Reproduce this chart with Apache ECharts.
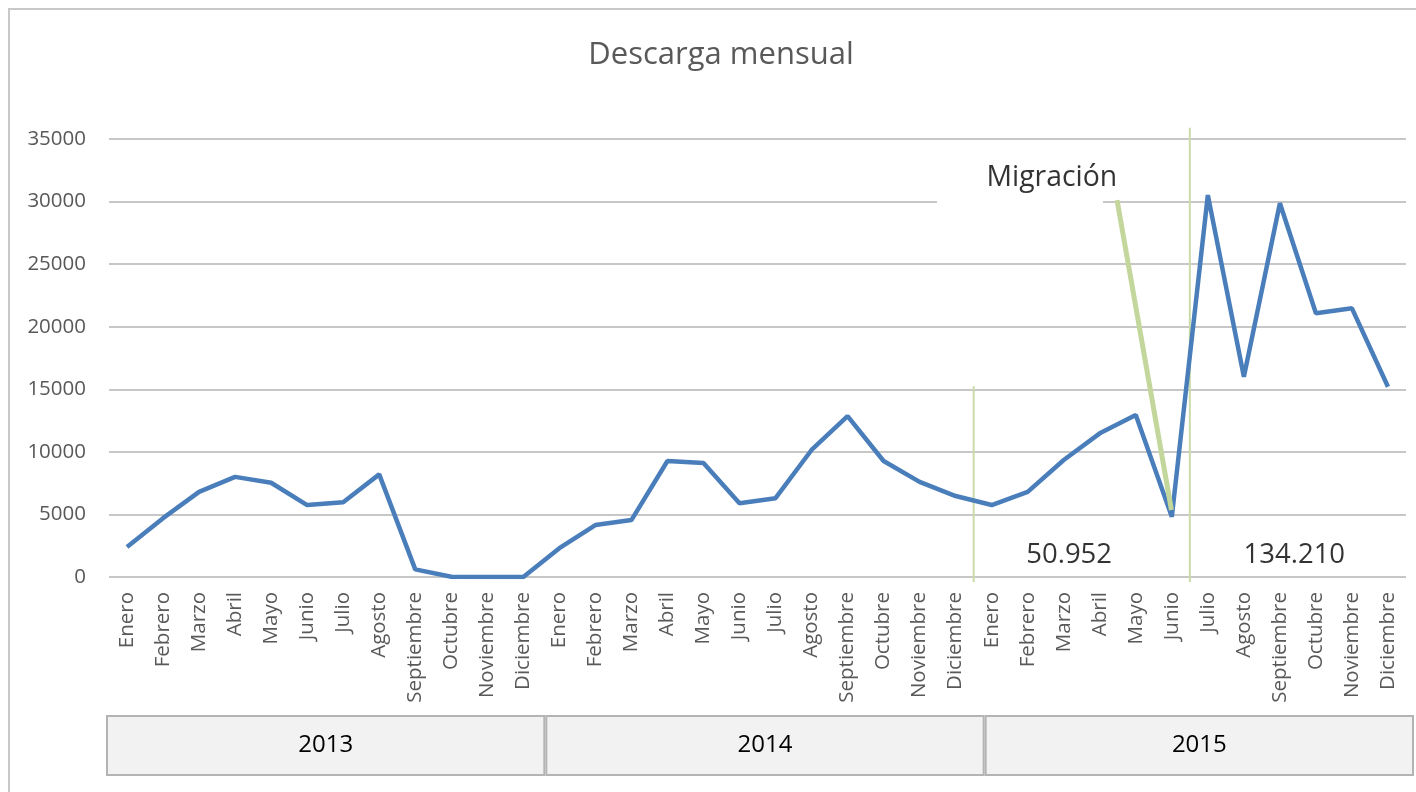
<!DOCTYPE html>
<html>
<head>
<meta charset="utf-8">
<script src="https://cdn.jsdelivr.net/npm/echarts@6/dist/echarts.min.js"></script>
<style>
html,body{margin:0;padding:0;background:#fff;}
#chart{width:1416px;height:792px;}
</style>
</head>
<body>
<div id="chart"></div>
<script>
// ---- data ----
const titleText = 'Descarga mensual';
const months = ['Enero','Febrero','Marzo','Abril','Mayo','Junio','Julio','Agosto','Septiembre','Octubre','Noviembre','Diciembre'];
const years = ['2013','2014','2015'];
const values2013 = [2400, 4700, 6800, 8000, 7530, 5750, 5970, 8200, 610, 20, 0, 0];
const values2014 = [2300, 4150, 4550, 9270, 9110, 5900, 6300, 10150, 12860, 9270, 7600, 6470];
const values2015 = [5750, 6800, 9350, 11480, 12940, 4820, 30520, 16000, 29860, 21070, 21470, 15200];
const yTicks = [0, 5000, 10000, 15000, 20000, 25000, 30000, 35000];
const migrationLabel = 'Migración';
const periodTotals = ['50.952', '134.210'];

const categories = [];
years.forEach(y => months.forEach(m => categories.push(m)));
const values = values2013.concat(values2014, values2015);

const FONT = '"Open Sans", Lato, sans-serif';
const GREY = '#595959';

const chart = echarts.init(document.getElementById('chart'), null, {renderer: 'canvas'});

const option = {
  animation: false,
  backgroundColor: '#ffffff',
  grid: {left: 109, right: 10, top: 139, bottom: 215, containLabel: false},
  xAxis: [
    {
      type: 'category',
      data: categories,
      boundaryGap: true,
      axisLine: {show: false},
      axisTick: {show: false},
      axisLabel: {rotate: 90, interval: 0, color: GREY, fontSize: 20.5, fontFamily: FONT, margin: 15}
    },
    {
      type: 'value', min: -0.5, max: 35.5, show: false
    }
  ],
  yAxis: {
    type: 'value',
    min: yTicks[0],
    max: yTicks[yTicks.length - 1],
    interval: yTicks[1] - yTicks[0],
    axisLine: {show: false},
    axisTick: {show: false},
    axisLabel: {color: GREY, fontSize: 20.5, fontFamily: FONT, margin: 23, formatter: v => String(v)},
    splitLine: {lineStyle: {color: '#b4b4b4', width: 1.5}}
  },
  series: [
    {
      name: 'box',
      type: 'line',
      xAxisIndex: 1,
      data: [],
      silent: true,
      z: 1,
      markArea: {
        silent: true,
        itemStyle: {color: '#ffffff', opacity: 1},
        label: {show: false},
        data: [[{coord: [22.48, 34000]}, {coord: [27.09, 29000]}]]
      }
    },
    {
      name: 'Descargas',
      type: 'line',
      data: values,
      symbol: 'none',
      z: 3,
      lineStyle: {color: '#4a7ebb', width: 4.5}
    },
    {
      name: 'sep1',
      type: 'line',
      xAxisIndex: 1,
      data: [[23.5, -400], [23.5, 15250]],
      symbol: 'none',
      clip: false,
      z: 2,
      lineStyle: {color: '#c9dba8', width: 2}
    },
    {
      name: 'sep2',
      type: 'line',
      xAxisIndex: 1,
      data: [[29.5, -400], [29.5, 35900]],
      symbol: 'none',
      clip: false,
      z: 2,
      lineStyle: {color: '#c9dba8', width: 2}
    },
    {
      name: 'migr',
      type: 'line',
      xAxisIndex: 1,
      data: [[27.48, 30120], [28.99, 5350]],
      symbol: 'none',
      clip: false,
      z: 4,
      lineStyle: {color: '#c3d69b', width: 5}
    },
    {
      name: 'totals',
      type: 'scatter',
      xAxisIndex: 1,
      symbolSize: 0,
      z: 5,
      data: [[26.15, 1760], [32.4, 1760]],
      label: {
        show: true, position: 'inside', color: '#000', fontSize: 27.5, fontFamily: FONT,
        formatter: p => periodTotals[p.dataIndex]
      }
    },
    {
      name: 'migrLabel',
      type: 'scatter',
      xAxisIndex: 1,
      symbolSize: 0,
      z: 5,
      clip: false,
      data: [[25.67, 31880]],
      label: {
        show: true, position: 'inside', color: '#000', fontSize: 28.4, fontFamily: FONT,
        formatter: () => migrationLabel
      }
    }
  ]
};
chart.setOption(option);

// category boxes and frame
const px = v => chart.convertToPixel({xAxisIndex: 1}, v);
const graphics = [
  {type: 'rect', shape: {x: 9, y: 9, width: 1430, height: 800}, style: {fill: 'none', stroke: '#c8c8c8', lineWidth: 2}, silent: true},
  {type: 'text', x: 721, y: 55, style: {text: titleText, fill: GREY, fontSize: 31, fontFamily: FONT, align: 'center', verticalAlign: 'middle'}}
];
years.forEach((y, i) => {
  let l = px(12 * i - 0.5) - 2 + 7 * i;
  let r = Math.min(px(12 * i + 11.5) + 3 + 7 * i, 1413);
  graphics.push({type: 'rect', shape: {x: l, y: 716, width: r - l, height: 59}, style: {fill: '#f2f2f2', stroke: '#b4b4b4', lineWidth: 2}, silent: true});
  graphics.push({type: 'text', x: (l + r) / 2, y: 745, style: {text: y, fill: '#000', fontSize: 24, fontFamily: FONT, align: 'center', verticalAlign: 'middle'}});
});
chart.setOption({graphic: graphics});
</script>
</body>
</html>
